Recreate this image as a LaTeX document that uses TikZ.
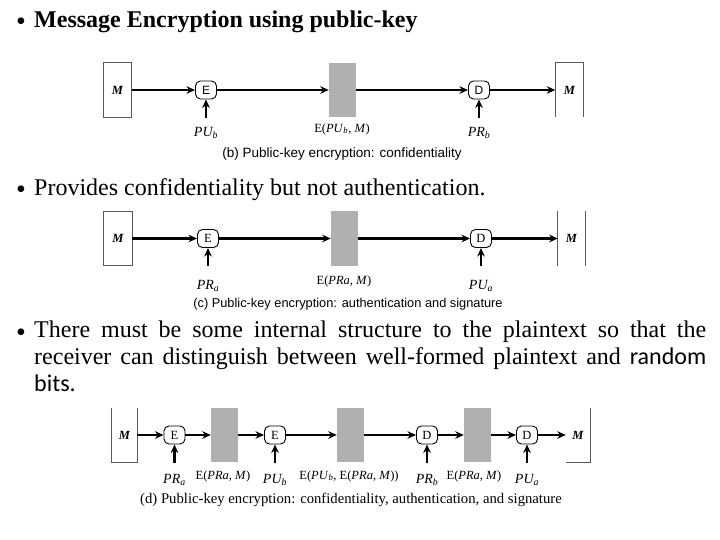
\documentclass[tikz,border=0pt]{standalone}
\usepackage{fontspec}
\setmainfont{Liberation Serif}
\newfontfamily\sansf{Liberation Sans}
\newfontfamily\carl{Carlito}
\usetikzlibrary{arrows.meta}
\begin{document}
\begin{tikzpicture}[x=1pt,y=-1pt,
  arr/.style={-{Stealth[length=8.5pt,width=7.5pt]}, line width=2.1pt},
  op/.style={draw, rounded corners=5pt, minimum width=21pt, minimum height=18pt, inner sep=0pt, line width=0.9pt, font=\fontsize{12.5}{13}\selectfont},
  greybox/.style={fill=gray!62, draw=none, minimum width=27pt, minimum height=54pt, inner sep=0pt},
  mbox/.style={minimum width=28pt, minimum height=54pt, inner sep=0pt, font=\fontsize{12.5}{13}\selectfont\bfseries\itshape},
  boxl/.style={draw=gray!70!black, line width=0.9pt},
  lbl/.style={font=\fontsize{12.5}{13}\selectfont, inner sep=0pt},
  klbl/.style={font=\fontsize{14}{14}\selectfont\itshape, inner sep=0pt},
  capsans/.style={font=\sansf\fontsize{13.5}{14}\selectfont, inner sep=0pt},
  capserif/.style={font=\fontsize{14.7}{15}\selectfont, inner sep=0pt},
  bigtext/.style={inner sep=0pt, font=\fontsize{24}{27}\selectfont},
  bullet/.style={inner sep=0pt, font=\fontsize{20}{22}\selectfont},
]
\useasboundingbox[fill=white] (0,0) rectangle (720,540);

% ---- bullet texts ----
\node[bullet, anchor=base west] (bu1) at (16,31) {\scalebox{1.4}{•}};
\node[bigtext, anchor=base west] (t1) at (34,28) {\bfseries Message Encryption using public-key};
\node[bullet, anchor=base west] (bu2) at (16,199) {\scalebox{1.4}{•}};
\node[bigtext, anchor=base west] (t2) at (34,196) {Provides confidentiality but not authentication.};
\node[bullet, anchor=base west] (bu3) at (16,341) {\scalebox{1.4}{•}};
\node[bigtext, anchor=north west, text width=672pt, align=justify] (t3) at (34,321)
  {There must be some internal structure to the plaintext so that the\linebreak
   receiver can distinguish between well-formed plaintext and {\carl random}\linebreak
   {\carl bits.}};

% ---- (b) ----
\node[mbox] (bm1) at (117.5,90) {M};
\draw[boxl] (bm1.south west) -- (bm1.north west) -- (bm1.north east) -- (bm1.south east) -- cycle;
\node[op, font=\sansf\fontsize{12}{12}\selectfont] (be) at (206,90) {E};
\node[greybox] (bg) at (342.5,90) {};
\node[op, font=\sansf\fontsize{12}{12}\selectfont] (bd) at (479,90) {D};
\node[mbox] (bm2) at (569.5,90) {M};
\draw[boxl] (bm2.south west) -- (bm2.north west) -- (bm2.north east) -- (bm2.south east);
\draw[arr] (bm1) -- (be);
\draw[arr] (be) -- (bg);
\draw[arr] (bg) -- (bd);
\draw[arr] (bd) -- (bm2);
\coordinate (bk1) at (206,118);
\coordinate (bk2) at (479,118);
\draw[arr] (bk1) -- (be);
\draw[arr] (bk2) -- (bd);
\node[klbl] (bl1) at (206,133) {PU\textsubscript{b}};
\node[lbl] (bl2) at (342,129) {E(\textit{PU}\textsubscript{\textit{b}}, \textit{M})};
\node[klbl] (bl3) at (479,133) {PR\textsubscript{b}};
\node[capsans] (bcap) at (342,154) {(b) Public-key encryption: confidentiality};

% ---- (c) ----
\node[mbox] (cm1) at (118,238.5) {M};
\draw[boxl] (cm1.south west) rectangle (cm1.north east);
\node[op] (ce) at (208,238.5) {E};
\node[greybox] (cg) at (344.5,238.5) {};
\node[op] (cd) at (481,238.5) {D};
\node[mbox, minimum width=27pt] (cm2) at (571.5,238.5) {M};
\draw[boxl] (cm2.south west) -- (cm2.north west);
\draw[boxl] (cm2.south east) -- (cm2.north east);
\draw[arr] (cm1) -- (ce);
\draw[arr] (ce) -- (cg);
\draw[arr] (cg) -- (cd);
\draw[arr] (cd) -- (cm2);
\coordinate (ck1) at (208,266);
\coordinate (ck2) at (481,266);
\draw[arr] (ck1) -- (ce);
\draw[arr] (ck2) -- (cd);
\node[klbl] (cl1) at (208,286) {PR\textsubscript{a}};
\node[lbl] (cl2) at (344,281) {E(\textit{PRa}, \textit{M})};
\node[klbl] (cl3) at (481,286) {PU\textsubscript{a}};
\node[capsans, font=\sansf\fontsize{12.8}{14}\selectfont] (ccap) at (348,304) {(c) Public-key encryption: authentication and signature};

% ---- (d) ----
\node[mbox, minimum width=25pt] (dm1) at (124.5,435) {M};
\draw[boxl] (dm1.north west) -- (dm1.south west) -- (dm1.south east) -- (dm1.north east);
\node[op] (de1) at (174.5,435) {E};
\node[greybox] (dg1) at (224.5,435) {};
\node[op] (de2) at (275,435) {E};
\node[greybox] (dg2) at (350.5,435) {};
\node[op] (dd1) at (427,435) {D};
\node[greybox] (dg3) at (477.5,435) {};
\node[op] (dd2) at (527,435) {D};
\node[mbox, minimum width=24pt] (dm2) at (578,435) {M};
\draw[boxl] (dm2.north east) -- (dm2.south east) -- (dm2.south west);
\draw[arr] (dm1) -- (de1);
\draw[arr] (de1) -- (dg1);
\draw[arr] (dg1) -- (de2);
\draw[arr] (de2) -- (dg2);
\draw[arr] (dg2) -- (dd1);
\draw[arr] (dd1) -- (dg3);
\draw[arr] (dg3) -- (dd2);
\draw[arr] (dd2) -- (dm2);
\coordinate (dk1) at (174.5,463);
\coordinate (dk2) at (275,463);
\coordinate (dk3) at (427,463);
\coordinate (dk4) at (527,463);
\draw[arr] (dk1) -- (de1);
\draw[arr] (dk2) -- (de2);
\draw[arr] (dk3) -- (dd1);
\draw[arr] (dk4) -- (dd2);
\node[klbl] (dl1) at (174.5,480) {PR\textsubscript{a}};
\node[lbl] (dl2) at (223,476) {E(\textit{PRa}, \textit{M})};
\node[klbl] (dl3) at (275,480) {PU\textsubscript{b}};
\node[lbl] (dl4) at (349,476) {E(\textit{PU}\textsubscript{\textit{b}}, E(\textit{PRa}, \textit{M}))};
\node[klbl] (dl5) at (427,480) {PR\textsubscript{b}};
\node[lbl] (dl6) at (474,476) {E(\textit{PRa}, \textit{M})};
\node[klbl] (dl7) at (527,480) {PU\textsubscript{a}};
\node[capserif] (dcap) at (351,500) {(d) Public-key encryption: confidentiality, authentication, and signature};
\end{tikzpicture}
\end{document}
